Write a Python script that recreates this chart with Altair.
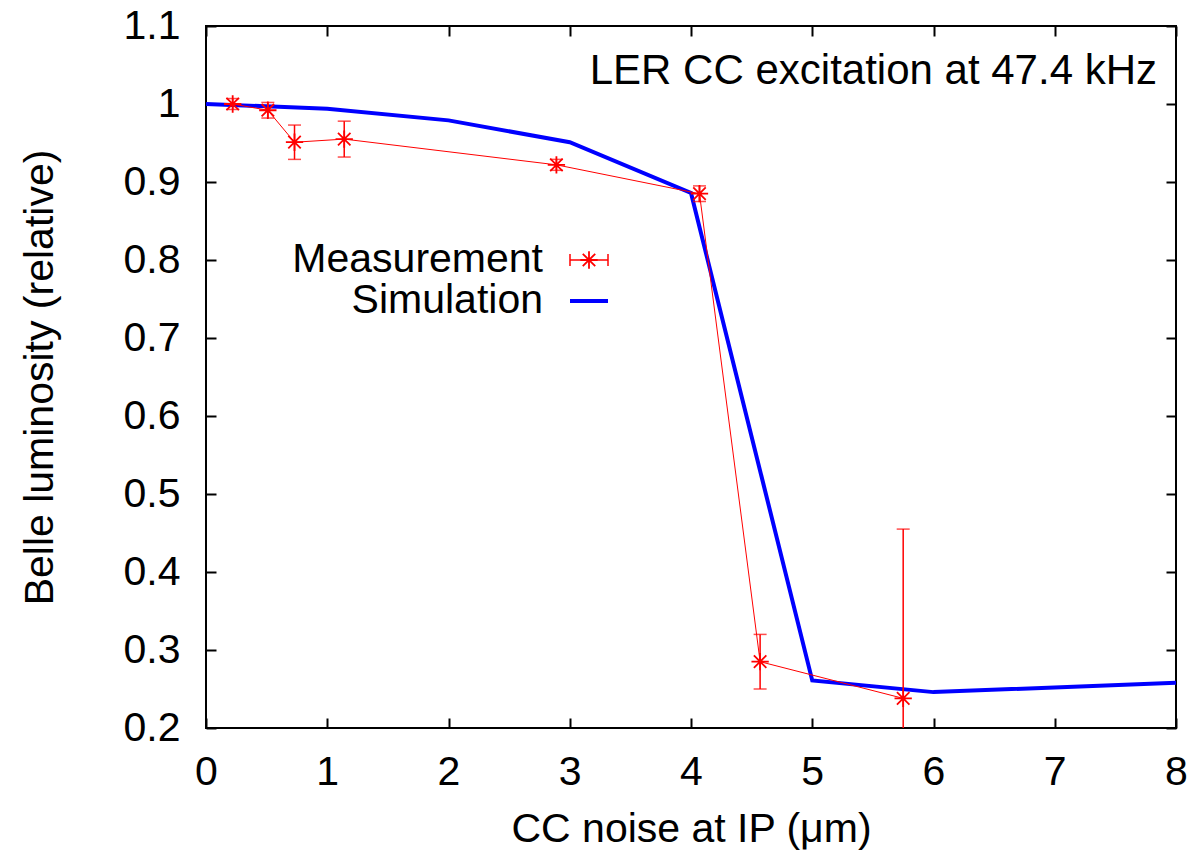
import altair as alt
import pandas as pd

# ---- data ----
meas_x = [0.22, 0.51, 0.73, 1.14, 2.89, 4.07, 4.57, 5.75]
meas_y = [1.000, 0.992, 0.951, 0.955, 0.922, 0.885, 0.285, 0.238]
meas_err = [0.007, 0.010, 0.022, 0.023, 0.007, 0.010, 0.035, 0.217]

sim_x = [0, 1, 2, 3, 4, 5, 6, 8]
sim_y = [1.000, 0.994, 0.979, 0.951, 0.886, 0.261, 0.246, 0.258]

x_ticks = [0, 1, 2, 3, 4, 5, 6, 7, 8]
y_ticks = [0.2, 0.3, 0.4, 0.5, 0.6, 0.7, 0.8, 0.9, 1.0, 1.1]

legend_labels = ["Measurement", "Simulation"]
annotation = "LER CC excitation at 47.4 kHz"

FONT = "Liberation Sans"
FS = 41
RED = "#ff0000"
BLUE = "#0000ff"

meas = pd.DataFrame({"x": meas_x, "y": meas_y, "err": meas_err})
meas["lo"] = meas["y"] - meas["err"]
meas["hi"] = meas["y"] + meas["err"]
sim = pd.DataFrame({"x": sim_x, "y": sim_y})

W, H = 970, 702
xs = alt.Scale(domain=[0, 8], nice=False, zero=False)
ys = alt.Scale(domain=[0.2, 1.1], nice=False, zero=False)

STAR = "M-1,0L1,0M0,-1L0,1M-0.72,-0.72L0.72,0.72M-0.72,0.72L0.72,-0.72"

x_bottom = alt.Axis(orient="bottom", values=x_ticks, tickSize=10, offset=-10, domain=False,
                    grid=False, tickColor="black", tickWidth=2, labelFont=FONT, labelFontSize=FS,
                    labelColor="black", labelPadding=24, labelFlush=False, title="CC noise at IP (μm)",
                    titleFont=FONT, titleFontSize=FS, titleFontWeight="normal", titleColor="black",
                    titleX=W / 2, titleY=111, titleBaseline="middle", titleAlign="center")
y_left = alt.Axis(orient="left", values=y_ticks, tickSize=10, offset=-10, domain=False,
                  grid=False, tickColor="black", tickWidth=2, labelFont=FONT, labelFontSize=FS,
                  labelColor="black", labelPadding=26, labelFlush=False,
                  labelExpr="format(datum.value, '~g')",
                  title="Belle luminosity (relative)", titleFont=FONT, titleFontSize=FS,
                  titleFontWeight="normal", titleColor="black", titleAngle=-90,
                  titleX=-176, titleY=H / 2, titleBaseline="middle", titleAlign="center")
x_top = alt.Axis(orient="top", values=x_ticks, tickSize=10, offset=-10, domain=False, grid=False,
                 tickColor="black", tickWidth=2, labels=False, title="")
y_right = alt.Axis(orient="right", values=y_ticks, tickSize=10, offset=-10, domain=False, grid=False,
                   tickColor="black", tickWidth=2, labels=False, title="")

sim_line = alt.Chart(sim).mark_line(color=BLUE, strokeWidth=4, clip=True).encode(
    x=alt.X("x:Q", scale=xs, axis=x_bottom),
    y=alt.Y("y:Q", scale=ys, axis=y_left),
)

meas_line = alt.Chart(meas).mark_line(color=RED, strokeWidth=1, clip=True).encode(
    x=alt.X("x:Q", scale=xs, axis=x_top),
    y=alt.Y("y:Q", scale=ys, axis=y_right),
)

err_rule = alt.Chart(meas).mark_rule(color=RED, strokeWidth=1.5, clip=True).encode(
    x=alt.X("x:Q", scale=xs, axis=None),
    y=alt.Y("lo:Q", scale=ys, axis=None),
    y2="hi:Q",
)
cap_lo = alt.Chart(meas).mark_tick(color=RED, size=13, thickness=1.5, orient="horizontal", clip=True).encode(
    x=alt.X("x:Q", scale=xs, axis=None),
    y=alt.Y("lo:Q", scale=ys, axis=None),
)
cap_hi = alt.Chart(meas).mark_tick(color=RED, size=13, thickness=1.5, orient="horizontal", clip=True).encode(
    x=alt.X("x:Q", scale=xs, axis=None),
    y=alt.Y("hi:Q", scale=ys, axis=None),
)
stars = alt.Chart(meas).mark_point(shape=STAR, filled=False, color=RED, strokeWidth=1.8,
                                   size=300, opacity=1, clip=True).encode(
    x=alt.X("x:Q", scale=xs, axis=None),
    y=alt.Y("y:Q", scale=ys, axis=None),
)

# annotation in top-right corner
ann = alt.Chart(pd.DataFrame({"t": [annotation]})).mark_text(
    font=FONT, fontSize=42, align="right", baseline="middle", color="black"
).encode(text="t:N", x=alt.value(951), y=alt.value(45))

# manual gnuplot-style key
leg_meas = pd.DataFrame({"label": [legend_labels[0]]})
leg_sim = pd.DataFrame({"label": [legend_labels[1]]})
leg_meas_text = alt.Chart(leg_meas).mark_text(font=FONT, fontSize=FS, align="right", baseline="middle",
                                              color="black").encode(
    text="label:N", x=alt.value(337), y=alt.value(234))
leg_sim_text = alt.Chart(leg_sim).mark_text(font=FONT, fontSize=FS, align="right", baseline="middle",
                                            color="black").encode(
    text="label:N", x=alt.value(337), y=alt.value(275))
leg_meas_line = alt.Chart(leg_meas).mark_rule(color=RED, strokeWidth=1.5).encode(
    x=alt.value(364), x2=alt.value(402), y=alt.value(234))
leg_meas_cap1 = alt.Chart(leg_meas).mark_rule(color=RED, strokeWidth=1.5).encode(
    x=alt.value(364), y=alt.value(228), y2=alt.value(240))
leg_meas_cap2 = alt.Chart(leg_meas).mark_rule(color=RED, strokeWidth=1.5).encode(
    x=alt.value(402), y=alt.value(228), y2=alt.value(240))
leg_meas_star = alt.Chart(leg_meas).mark_point(shape=STAR, filled=False, color=RED, strokeWidth=1.8,
                                               size=300, opacity=1).encode(
    x=alt.value(383), y=alt.value(234))
leg_sim_line = alt.Chart(leg_sim).mark_rule(color=BLUE, strokeWidth=4).encode(
    x=alt.value(364), x2=alt.value(402), y=alt.value(275))

chart = alt.layer(
    sim_line, meas_line, err_rule, cap_lo, cap_hi, stars, ann,
    leg_meas_text, leg_sim_text, leg_meas_line, leg_meas_cap1, leg_meas_cap2, leg_meas_star,
    leg_sim_line,
).resolve_axis(x="independent", y="independent").properties(
    width=W, height=H,
    autosize=alt.AutoSizeParams(type="none"),
    padding={"left": 206, "top": 26, "right": 17, "bottom": 128},
    background="white",
).configure_view(stroke="black", strokeWidth=2)

chart.save("out.html", embed_options={"renderer": "svg", "actions": False})
